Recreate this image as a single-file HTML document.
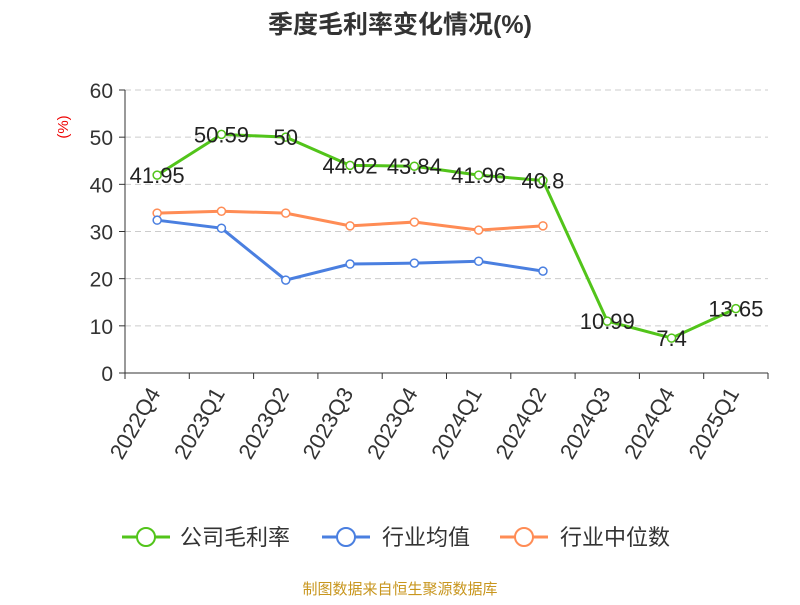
<!DOCTYPE html>
<html><head><meta charset="utf-8"><style>
body{margin:0;background:#fff;width:800px;height:600px;overflow:hidden;font-family:"Liberation Sans","Noto Sans CJK SC",sans-serif;}
</style></head><body>
<svg id="chart" width="800" height="600" xmlns="http://www.w3.org/2000/svg" font-family="Liberation Sans, Noto Sans CJK SC, sans-serif">
<text x="400" y="33" text-anchor="middle" font-size="25" font-weight="bold" fill="#333">季度毛利率变化情况(%)</text>
<text x="68" y="127" font-size="15" fill="#e00" text-anchor="middle" transform="rotate(-90 68 127)">(%)</text>
<g id="grid"></g><g id="axes"></g><g id="series"></g>
<g id="legend" font-size="22" fill="#333">
<g><line x1="122" y1="537" x2="170" y2="537" stroke="#52c41a" stroke-width="3"/><circle cx="146" cy="537" r="9" fill="#fff" stroke="#52c41a" stroke-width="2"/><text x="180" y="545">公司毛利率</text></g>
<g><line x1="322" y1="537" x2="370" y2="537" stroke="#4a7fe0" stroke-width="3"/><circle cx="346" cy="537" r="9" fill="#fff" stroke="#4a7fe0" stroke-width="2"/><text x="382" y="545">行业均值</text></g>
<g><line x1="500" y1="537" x2="548" y2="537" stroke="#ff8c55" stroke-width="3"/><circle cx="524" cy="537" r="9" fill="#fff" stroke="#ff8c55" stroke-width="2"/><text x="560" y="545">行业中位数</text></g>
</g>
<text x="400" y="594" text-anchor="middle" font-size="15" fill="#c8961e">制图数据来自恒生聚源数据库</text>
</svg>
<script>
const categories=["2022Q4","2023Q1","2023Q2","2023Q3","2023Q4","2024Q1","2024Q2","2024Q3","2024Q4","2025Q1"];
const grossMargin=[41.95,50.59,50,44.02,43.84,41.96,40.8,10.99,7.4,13.65];
const industryAvg=[32.4,30.7,19.7,23.1,23.3,23.7,21.6];
const industryMedian=[33.9,34.3,33.9,31.2,32.0,30.3,31.2];
const yTicks=[0,10,20,30,40,50,60];
const NS="http://www.w3.org/2000/svg";
const x0=125,x1=768,y0=373,y1=90;
const band=(x1-x0)/categories.length;
const xs=i=>x0+band*(i+0.5);
const ys=v=>y0-(v/60)*(y0-y1);
function mk(tag,attrs,parent){const e=document.createElementNS(NS,tag);for(const k in attrs)e.setAttribute(k,attrs[k]);document.getElementById(parent).appendChild(e);return e;}
yTicks.forEach(t=>{
  if(t>0){const g=mk('line',{x1:x0,x2:x1,y1:ys(t),y2:ys(t),stroke:'#ccc','stroke-dasharray':'6,4'},'grid');
  
  }
  const tk=mk('line',{x1:x0-6,x2:x0,y1:ys(t),y2:ys(t),stroke:'#333'},'axes');
  
  
  const l=mk('text',{x:x0-12,y:ys(t)+8,'text-anchor':'end','font-size':21,fill:'#333'},'axes');l.textContent=t;
  
  
});
const ya=mk('line',{x1:x0,x2:x0,y1:y1,y2:y0,stroke:'#333'},'axes');


const xa=mk('line',{x1:x0,x2:x1,y1:y0,y2:y0,stroke:'#333'},'axes');


for(let i=0;i<=categories.length;i++){const t=mk('line',{x1:x0+band*i,x2:x0+band*i,y1:y0,y2:y0+6,stroke:'#333'},'axes');

}
categories.forEach((c,i)=>{const x=xs(i)+4,y=y0+20;
  const l=mk('text',{x:x,y:y,'text-anchor':'end','font-size':22,fill:'#333',transform:`rotate(-60 ${x} ${y})`},'axes');l.textContent=c;
  
  });
function series(data,color,name,labels){
  const p=mk('polyline',{points:data.map((v,i)=>xs(i)+','+ys(v)).join(' '),fill:'none',stroke:color,'stroke-width':3},'series');
  
  
  data.forEach((v,i)=>{const c=mk('circle',{cx:xs(i),cy:ys(v),r:4,fill:'#fff',stroke:color,'stroke-width':1.5},'series');
    
    
    if(labels){const t=mk('text',{x:xs(i),y:ys(v)+8,'text-anchor':'middle','font-size':22,fill:'#222'},'series');t.textContent=v;
      
      }});
}
series(industryMedian,'#ff8c55','industry-median',false);
series(industryAvg,'#4a7fe0','industry-average',false);
series(grossMargin,'#52c41a','gross-margin',true);
</script>
</body></html>
